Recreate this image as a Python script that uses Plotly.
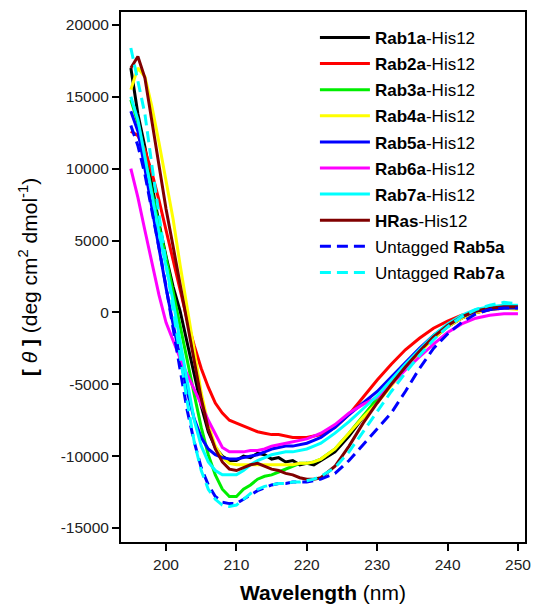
import plotly.graph_objects as go

wavelength = list(range(195, 223)) + list(range(224, 251, 2))

rab1a = [17000, 13800, 11500, 8800, 6200, 3900, 1800, 100, -2000, -4300, -6500, -8300, -9400, -10000,
         -10300, -10300, -10000, -10100, -9800, -9900, -10200, -10100, -10400, -10300, -10600, -10500,
         -10600, -10300, -9700, -8600, -7300, -6000, -4800, -3700, -2700, -1800, -1000, -400, 0, 200, 400, 300]
rab2a = [12600, 12300, 11300, 9700, 7800, 5700, 3600, 1500, -500, -2300, -3900, -5200, -6300, -7000,
         -7500, -7700, -7900, -8100, -8300, -8400, -8500, -8500, -8600, -8700, -8700, -8700,
         -8600, -8500, -8000, -7100, -5900, -4700, -3600, -2600, -1800, -1100, -600, -200, 0, 200, 300, 300]
rab3a = [14800, 13200, 10800, 8300, 6000, 3800, 1500, -900, -3300, -5700, -8000, -9900, -11300, -12300,
         -12800, -12800, -12300, -12000, -11600, -11400, -11300, -11100, -10900, -10700, -10500, -10500,
         -10400, -10200, -9500, -8400, -7200, -6000, -4800, -3600, -2600, -1600, -900, -300, 100, 300, 400, 400]
rab4a = [15500, 17000, 16400, 14300, 11800, 9200, 6500, 3300, 300, -2800, -5600, -7800, -9300, -10100,
         -10500, -10600, -10600, -10600, -10600, -10600, -10600, -10600, -10600, -10600, -10500, -10500,
         -10400, -10200, -9500, -8400, -7300, -6300, -5100, -3900, -2800, -1800, -1000, -400, 0, 200, 300, 200]
rab5a = [14000, 12600, 10000, 7200, 4300, 1700, -800, -3200, -5500, -7400, -8700, -9500, -9900, -10100,
         -10200, -10200, -10100, -10000, -9900, -9700, -9500, -9400, -9300, -9300, -9200, -9100,
         -8900, -8700, -8000, -7100, -6300, -5500, -4500, -3500, -2500, -1600, -900, -300, 100, 200, 300, 300]
rab6a = [10000, 8000, 5700, 3400, 1200, -700, -2000, -3200, -4300, -5300, -6400, -7500, -8500, -9400,
         -9700, -9700, -9700, -9600, -9600, -9500, -9300, -9200, -9100, -9000, -8900, -8800,
         -8600, -8400, -7800, -7000, -6400, -5900, -5000, -4000, -3100, -2200, -1400, -800, -400, -200, -100, -100]
rab7a = [15000, 13400, 10800, 8000, 5500, 3200, 800, -2000, -4800, -7500, -9300, -10400, -11000, -11300,
         -11300, -11300, -11000, -10600, -10300, -10100, -9900, -9800, -9700, -9700, -9600, -9500,
         -9300, -9100, -8400, -7600, -6700, -5800, -4700, -3600, -2600, -1600, -800, -200, 200, 400, 500, 500]
hras = [17000, 17800, 16300, 13200, 10200, 7200, 4600, 1900, -600, -3400, -6000, -8100, -9500, -10400,
        -10900, -11000, -10800, -10600, -10500, -10700, -10900, -11000, -11200, -11300, -11500, -11600,
        -11600, -11500, -10700, -9300, -7700, -6300, -5000, -3800, -2700, -1700, -900, -300, 100, 300, 400, 400]
untagged_rab5a = [13000, 11600, 9600, 7100, 4500, 1800, -1200, -4000, -6800, -9000, -10800, -12000, -12800, -13200,
                  -13300, -13300, -13000, -12700, -12400, -12200, -12000, -11900, -11900, -11800, -11800, -11800,
                  -11700, -11600, -11200, -10300, -9200, -8100, -7000, -5500, -3900, -2500, -1500, -700, -100, 200, 300, 300]
untagged_rab7a = [18400, 16200, 13800, 10200, 6700, 3400, 200, -3000, -6200, -9000, -11000, -12300, -13000, -13400,
                  -13500, -13400, -13000, -12600, -12300, -12100, -12000, -11900, -11900, -11800, -11800, -11700,
                  -11600, -11400, -10800, -9700, -8300, -6900, -5500, -4200, -3000, -1900, -1000, -300, 200, 500, 700, 600]

names = ["<b>Rab1a</b>-His12", "<b>Rab2a</b>-His12", "<b>Rab3a</b>-His12", "<b>Rab4a</b>-His12",
         "<b>Rab5a</b>-His12", "<b>Rab6a</b>-His12", "<b>Rab7a</b>-His12", "<b>HRas</b>-His12",
         "Untagged <b>Rab5a</b>", "Untagged <b>Rab7a</b>"]
series = [rab1a, rab2a, rab3a, rab4a, rab5a, rab6a, rab7a, hras, untagged_rab5a, untagged_rab7a]
colors = ["#000000", "#ff0000", "#00ee00", "#ffff00", "#0000ff", "#ff00ff", "#00ffff", "#800000",
          "#0000ff", "#00ffff"]
dashes = ["solid"] * 8 + ["11px,6px", "11px,6px"]

x_ticks = [200, 210, 220, 230, 240, 250]
x_tick_labels = ["200", "210", "220", "230", "240", "250"]
y_ticks = [20000, 15000, 10000, 5000, 0, -5000, -10000, -15000]
y_tick_labels = ["20000", "15000", "10000", "5000", "0", "-5000", "-10000", "-15000"]

fig = go.Figure()
for i, (name, ys, c, d) in enumerate(zip(names, series, colors, dashes)):
    fig.add_trace(go.Scatter(x=wavelength, y=ys, name=name, mode="lines",
                             legendgroup=f"g{i}",
                             line=dict(color=c, width=3, dash=d)))

axis_common = dict(showline=True, linecolor="black", linewidth=2, mirror=True,
                   ticks="outside", ticklen=7, tickwidth=2, tickcolor="black",
                   showgrid=False, zeroline=False, automargin=False,
                   ticklabeloverflow="allow",
                   tickfont=dict(family="Liberation Sans, Arial", size=15.5, color="#222"))

fig.update_layout(
    width=533, height=614,
    margin=dict(l=121, r=8, t=12, b=72),
    plot_bgcolor="white", paper_bgcolor="white",
    font=dict(family="Liberation Sans, Arial", color="black"),
    xaxis=dict(range=[193.6, 251.0], tickvals=x_ticks, ticktext=x_tick_labels,
               title=dict(text="<b>Wavelength</b> (nm)", font=dict(size=21), standoff=14),
               **axis_common),
    yaxis=dict(range=[-15970, 20900], tickvals=y_ticks, ticktext=y_tick_labels,
               title=dict(text="<b>[</b> <i>θ</i> <b>]</b> (deg cm<sup>2</sup> dmol<sup>-1</sup>)",
                          font=dict(size=21), standoff=17),
               **axis_common),
    legend=dict(x=0.48, y=0.985, xanchor="left", yanchor="top",
                font=dict(size=17, family="Liberation Sans, Arial", color="black"),
                bgcolor="rgba(255,255,255,0)", tracegroupgap=1, itemwidth=50,
                traceorder="grouped"),
    showlegend=True,
)

fig.write_html("out.html", post_script="document.body.style.margin='0';",
               config={"displayModeBar": False})
